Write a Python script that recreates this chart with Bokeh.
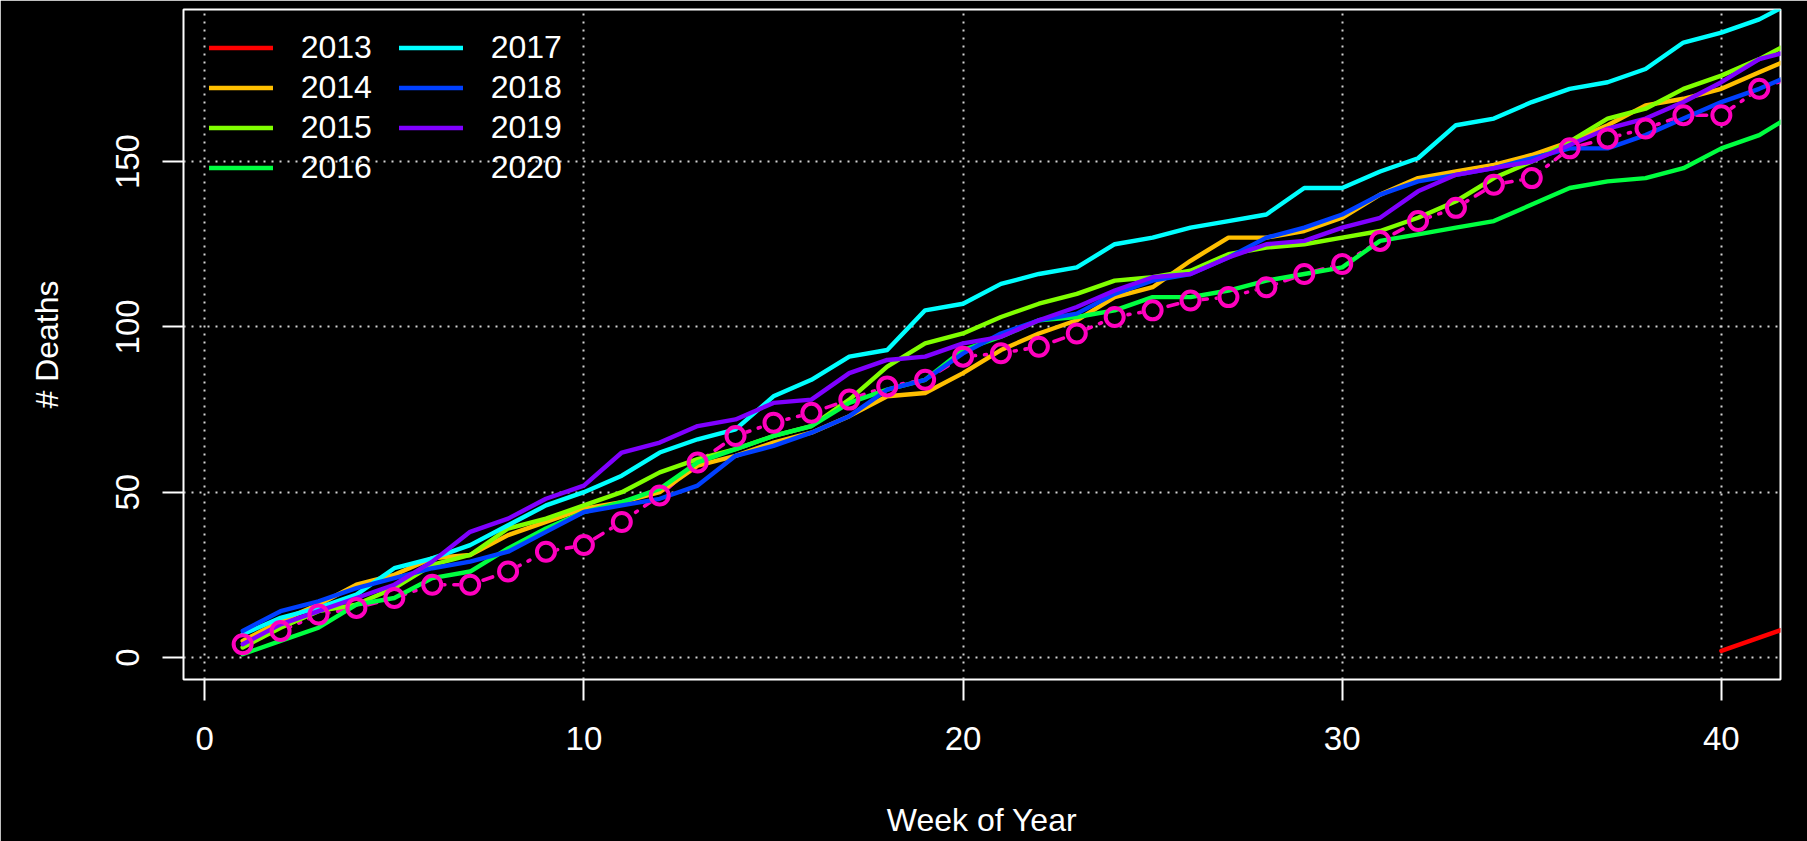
from bokeh.plotting import figure
from bokeh.models import Range1d, Legend, LegendItem
from bokeh.embed import file_html
from bokeh.resources import INLINE

# ---------------- data ----------------
weeks = list(range(1, 43))
weeks_2013 = [40, 41, 42]
deaths_2013 = [2, 6, 10]
deaths_2014 = [5, 11, 16, 22, 25, 30, 31, 37, 41, 45, 47, 50, 58, 61, 65, 68, 73, 79, 80, 86, 93,
               98, 102, 109, 112, 120, 127, 127, 129, 133, 140, 145, 147, 149, 152, 156, 161, 167,
               169, 172, 177, 182]
deaths_2015 = [3, 9, 14, 16, 21, 28, 31, 39, 42, 46, 50, 56, 60, 63, 67, 70, 78, 88, 95, 98, 103,
               107, 110, 114, 115, 117, 122, 124, 125, 127, 129, 133, 138, 145, 150, 156, 163, 166,
               172, 176, 181, 187]
deaths_2016 = [1, 5, 9, 16, 18, 24, 26, 33, 39, 44, 47, 51, 59, 63, 67, 70, 77, 81, 84, 93, 97,
               102, 103, 105, 109, 109, 111, 114, 116, 118, 126, 128, 130, 132, 137, 142, 144, 145,
               148, 154, 158, 165]
deaths_2017 = [7, 12, 15, 19, 27, 30, 34, 40, 46, 50, 55, 62, 66, 69, 79, 84, 91, 93, 105, 107, 113,
               116, 118, 125, 127, 130, 132, 134, 142, 142, 147, 151, 161, 163, 168, 172, 174, 178,
               186, 189, 193, 199]
deaths_2018 = [8, 14, 17, 21, 24, 27, 29, 32, 38, 44, 46, 48, 52, 61, 64, 68, 73, 81, 84, 92, 98,
               102, 104, 110, 114, 116, 121, 127, 130, 134, 140, 144, 146, 148, 151, 154, 154, 158,
               163, 168, 172, 177]
deaths_2019 = [4, 10, 14, 18, 22, 29, 38, 42, 48, 52, 62, 65, 70, 72, 77, 78, 86, 90, 91, 95, 97,
               102, 106, 111, 115, 116, 121, 125, 126, 130, 133, 141, 146, 148, 150, 155, 160, 163,
               168, 174, 181, 184]
deaths_2020 = [4, 8, 13, 15, 18, 22, 22, 26, 32, 34, 41, 49, 59, 67, 71, 74, 78, 82, 84, 91, 92,
               94, 98, 103, 105, 108, 109, 112, 116, 119, 126, 132, 136, 143, 145, 154, 157, 160,
               164, 164, 172, 176]

years = ["2013", "2014", "2015", "2016", "2017", "2018", "2019", "2020"]
colors = ["#FF0000", "#FFBF00", "#80FF00", "#00FF40", "#00FFFF", "#0040FF", "#8000FF", "#FF00BF"]
x_ticks = [0, 10, 20, 30, 40]
y_ticks = [0, 50, 100, 150]
x_label = "Week of Year"
y_label = "# Deaths"

FONT = "Liberation Sans"

p = figure(width=1807, height=841, output_backend="svg", toolbar_location=None,
           x_range=Range1d(-0.56, 41.56), y_range=Range1d(-6.66, 196.0),
           min_border_left=183, min_border_right=27, min_border_top=9, min_border_bottom=162,
           background_fill_color="black", border_fill_color="black")
p.outline_line_color = "white"
p.outline_line_width = 2

for ax in (p.xaxis, p.yaxis):
    ax.axis_line_color = None
    ax.major_tick_line_color = "white"
    ax.major_tick_line_width = 2
    ax.major_tick_out = 21
    ax.major_tick_in = 0
    ax.minor_tick_line_color = None
    ax.major_label_text_color = "white"
    ax.major_label_text_font = FONT
    ax.major_label_text_font_size = "33px"
    ax.axis_label_text_color = "white"
    ax.axis_label_text_font = FONT
    ax.axis_label_text_font_size = "32px"
    ax.axis_label_text_font_style = "normal"

p.xaxis.ticker = x_ticks
p.yaxis.ticker = y_ticks
p.xaxis.axis_label = x_label
p.yaxis.axis_label = y_label
p.xaxis.major_label_standoff = 26
p.xaxis.axis_label_standoff = 49
p.yaxis.major_label_orientation = "vertical"
p.yaxis.major_label_standoff = 23
p.yaxis.axis_label_standoff = 49

for g in (p.xgrid, p.ygrid):
    g.grid_line_color = "#D3D3D3"
    g.grid_line_dash = "2 6"
    g.grid_line_width = 2

LW = 4.4
RING = 18
RING_W = 4

# 2020 connecting line (drawn first), then black discs that leave gaps around
# the points like R's type="b"; the other years are drawn on top of them.
p.line(weeks, deaths_2020, line_color=colors[7], line_width=3.6, line_dash="2 9 10 9",
       line_cap="round", line_join="round")
p.scatter(weeks, deaths_2020, marker="circle", size=RING + RING_W, fill_color="black",
          line_color=None)

series = [deaths_2014, deaths_2015, deaths_2016, deaths_2017, deaths_2018, deaths_2019]
items = []
r = p.line(weeks_2013, deaths_2013, line_color=colors[0], line_width=LW, line_join="round", line_cap="round")
items.append(LegendItem(label=years[0], renderers=[r]))
for yr, col, data in zip(years[1:7], colors[1:7], series):
    r = p.line(weeks, data, line_color=col, line_width=LW, line_join="round", line_cap="round")
    items.append(LegendItem(label=yr, renderers=[r]))

p.scatter(weeks, deaths_2020, marker="circle", size=RING, fill_color=None,
          line_color=colors[7], line_width=RING_W)
proxy = p.line([], [], line_color=colors[7], line_width=LW, line_cap="round")
items.append(LegendItem(label=years[7], renderers=[proxy]))

legend = Legend(items=items, orientation="vertical", nrows=4, location=(25.7, 492.9),
                padding=0, margin=0, spacing=3, glyph_width=64, glyph_height=37,
                label_height=37, label_width=95, label_standoff=28,
                label_text_font=FONT, label_text_font_size="32px", label_text_color="white",
                background_fill_alpha=0, border_line_color=None)
p.add_layout(legend)

open("out.html", "w").write(file_html(p, INLINE))
